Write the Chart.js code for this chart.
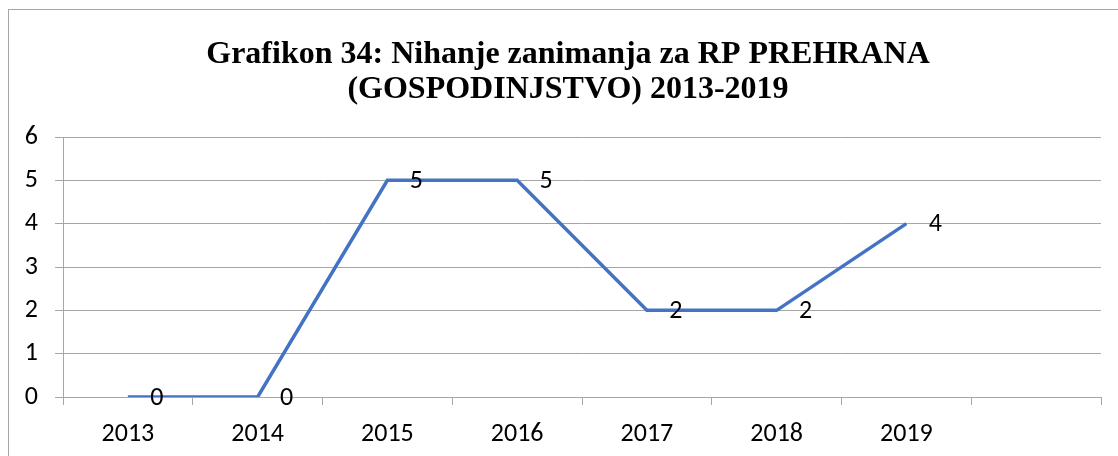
<!DOCTYPE html>
<html>
<head>
<meta charset="utf-8">
<script src="https://cdn.jsdelivr.net/npm/chart.js@4"></script>
<style>
  html, body { margin: 0; padding: 0; background: #fff; overflow: hidden; }
  #wrap { position: relative; width: 1118px; height: 456px; }
  #frame { position: absolute; left: 8px; top: 9px; width: 1200px; height: 600px; border: 1px solid #a6a6a6; }
  canvas { position: absolute; left: 0; top: 0; }
</style>
</head>
<body>
<div id="wrap">
  <div id="frame"></div>
  <canvas id="chart" width="1118" height="456"></canvas>
</div>
<script>
// data
const years = ["2013", "2014", "2015", "2016", "2017", "2018", "2019", ""];
const values = [0, 0, 5, 5, 2, 2, 4, null];
const titleLines = ["Grafikon 34: Nihanje zanimanja za RP PREHRANA", "(GOSPODINJSTVO) 2013-2019"];

const tickFont = { family: "Carlito, Lato, 'Liberation Sans', sans-serif", size: 26 };

// title is centred on the outer frame, which runs past the canvas edge
const chartTitle = {
  id: "chartTitle",
  afterDraw(chart) {
    const ctx = chart.ctx;
    ctx.save();
    ctx.fillStyle = "#000";
    ctx.font = "bold 32px 'Liberation Serif', 'Times New Roman', serif";
    ctx.textAlign = "center";
    ctx.textBaseline = "middle";
    titleLines.forEach((line, i) => ctx.fillText(line, 568, 55 + i * 35));
    ctx.restore();
  }
};

// value labels to the right of each point
const valueLabels = {
  id: "valueLabels",
  afterDatasetsDraw(chart) {
    const ctx = chart.ctx;
    const meta = chart.getDatasetMeta(0);
    ctx.save();
    ctx.fillStyle = "#000";
    ctx.font = tickFont.size + "px " + tickFont.family;
    ctx.textAlign = "center";
    ctx.textBaseline = "middle";
    meta.data.forEach((pt, i) => {
      if (values[i] === null) return;
      ctx.fillText(String(values[i]), pt.x + 29, pt.y + 1);
    });
    ctx.restore();
  }
};

new Chart(document.getElementById("chart"), {
  type: "line",
  data: {
    labels: years,
    datasets: [{
      data: values,
      borderColor: "#4472c4",
      borderWidth: 3.5,
      pointRadius: 0,
      tension: 0,
      spanGaps: false
    }]
  },
  options: {
    responsive: false,
    animation: false,
    layout: { padding: { left: 0, right: 17, top: 137, bottom: 0 } },
    plugins: {
      legend: { display: false },
      tooltip: { enabled: false },
      title: { display: false }
    },
    scales: {
      x: {
        offset: true,
        grid: { offset: true, drawOnChartArea: false, tickLength: 8, color: "#a6a6a6" },
        border: { color: "#a6a6a6" },
        ticks: { color: "#000", font: tickFont, padding: 14, maxRotation: 0, autoSkip: false },
        afterFit(axis) { axis.height = 59; }
      },
      y: {
        min: 0,
        max: 6,
        ticks: { stepSize: 1, color: "#000", font: tickFont, padding: 17 },
        grid: { color: "#a6a6a6", tickLength: 8 },
        border: { color: "#a6a6a6" },
        afterFit(axis) { axis.width = 63; }
      }
    }
  },
  plugins: [valueLabels, chartTitle]
});
</script>
</body>
</html>
